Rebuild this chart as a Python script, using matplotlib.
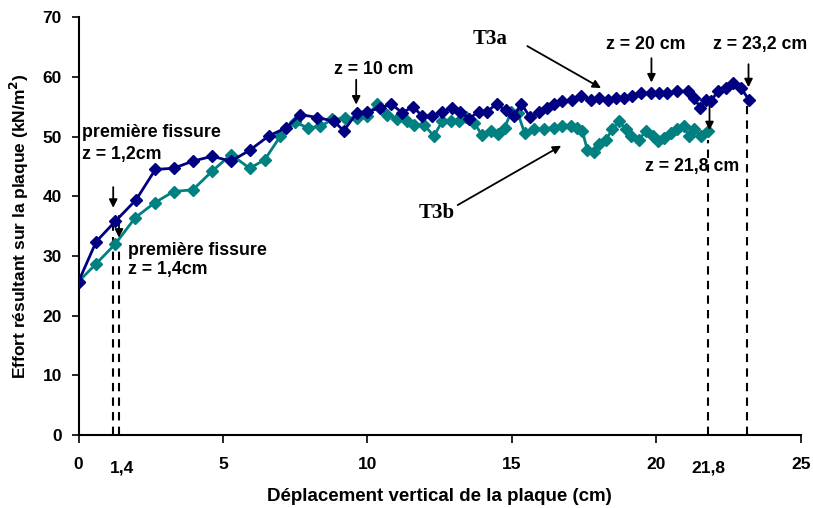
import matplotlib.pyplot as plt
import numpy as np

# T3a (navy) and T3b (teal): displacement (cm) vs resulting force (kN/m2)
t3a_x = [0, 0.61, 1.27, 1.99, 2.66, 3.29, 3.96, 4.62, 5.28, 5.92, 6.58, 7.19, 7.68,
         8.26, 8.83, 9.18, 9.64, 9.99, 10.45, 10.82, 11.2, 11.58, 11.9, 12.24, 12.59,
         12.94, 13.22, 13.51, 13.86, 14.15, 14.47, 14.78, 15.07, 15.33, 15.62, 15.95,
         16.2, 16.46, 16.75, 17.09, 17.38, 17.73, 18.02, 18.31, 18.59, 18.88, 19.17,
         19.46, 19.81, 20.09, 20.38, 20.73, 21.08, 21.31, 21.52, 21.72, 21.89, 22.12,
         22.4, 22.67, 22.92, 23.2]
t3a_y = [25.7, 32.4, 35.8, 39.4, 44.5, 44.7, 45.9, 46.7, 45.9, 47.7, 50.1, 51.5, 53.7,
         53.2, 52.6, 51.0, 54.0, 54.2, 54.8, 55.5, 54.0, 55.0, 53.4, 53.5, 54.2,
         54.8, 54.2, 53.0, 54.2, 54.2, 55.5, 54.4, 53.4, 55.5, 53.3, 54.1,
         54.8, 55.4, 55.9, 56.2, 56.8, 56.2, 56.5, 56.2, 56.5, 56.5, 56.8,
         57.3, 57.3, 57.3, 57.3, 57.6, 57.6, 56.5, 54.8, 56.1, 55.9, 57.6,
         58.2, 59.0, 58.2, 56.2]

t3b_x = [0, 0.61, 1.27, 1.96, 2.63, 3.29, 3.96, 4.62, 5.28, 5.92, 6.44, 6.99, 7.48,
         7.94, 8.37, 8.78, 9.24, 9.64, 9.99, 10.34, 10.68, 11.03, 11.38, 11.6, 11.95,
         12.3, 12.59, 12.88, 13.16, 13.42, 13.7, 13.97, 14.26, 14.52, 14.75, 14.97,
         15.2, 15.44, 15.76, 16.1, 16.46, 16.75, 17.03, 17.27, 17.44, 17.61, 17.84,
         18.02, 18.25, 18.48, 18.71, 18.94, 19.11, 19.4, 19.63, 19.87, 20.04, 20.27,
         20.5, 20.73, 20.96, 21.13, 21.31, 21.54, 21.8]
t3b_y = [25.7, 28.7, 32.0, 36.4, 38.9, 40.8, 41.1, 44.2, 47.0, 44.7, 46.1, 50.1, 52.4,
         51.5, 51.7, 52.9, 53.1, 53.2, 53.5, 55.4, 53.7, 52.9, 52.6, 52.0, 52.0,
         50.1, 52.6, 52.6, 52.6, 53.3, 52.3, 50.2, 51.0, 50.5, 51.5, 54.1,
         54.0, 50.6, 51.2, 51.3, 51.5, 51.7, 51.7, 51.5, 50.9, 47.8, 47.5,
         48.7, 49.5, 51.2, 52.6, 51.2, 50.1, 49.5, 50.9, 50.1, 49.2, 49.8,
         50.6, 51.2, 51.7, 50.1, 51.2, 50.1, 50.9]

x_ticks = [0, 5, 10, 15, 20, 25]
y_ticks = [0, 10, 20, 30, 40, 50, 60, 70]
extra_ticks = [1.5, 21.8]
extra_labels = ['1,4', '21,8']

plt.rcParams['font.family'] = ['Liberation Sans', 'DejaVu Sans']
plt.rcParams['font.weight'] = 'bold'

fig = plt.figure(figsize=(8.13, 5.08), dpi=100)
ax = fig.add_axes([0.0966, 0.1437, 0.8884, 0.8223])

navy = '#000080'
teal = '#008080'
ax.plot(t3b_x, t3b_y, color=teal, lw=2, marker='D', ms=6.5, mec=teal, zorder=3)
ax.plot(t3a_x, t3a_y, color=navy, lw=2, marker='D', ms=6.5, mec=navy, zorder=4)

ax.set_xlim(0, 25)
ax.set_ylim(0, 70)
ax.set_xticks(x_ticks)
ax.set_yticks(y_ticks)
ax.tick_params(axis='x', direction='out', length=6, width=1.2, pad=10, labelsize=12.5)
ax.tick_params(axis='y', direction='out', length=5, width=1.2, pad=7, labelsize=12.5)
for lab in ax.get_xticklabels() + ax.get_yticklabels():
    lab.set_fontweight('bold')
for s in ['top', 'right']:
    ax.spines[s].set_visible(False)
for s in ['left', 'bottom']:
    ax.spines[s].set_linewidth(1.5)

for xv, lab in zip(extra_ticks, extra_labels):
    ax.text(xv, -0.078, lab, transform=ax.get_xaxis_transform(), ha='center',
            va='center', fontsize=12.5, fontweight='bold')

ax.set_xlabel('Déplacement vertical de la plaque (cm)', fontsize=13.5,
              fontweight='bold', labelpad=11)
ax.set_ylabel('Effort résultant sur la plaque (kN/m$^\\mathbf{2}$)', fontsize=12.5,
              fontweight='bold', labelpad=8)

# dashed verticals
dash = dict(color='black', lw=1.5, ls=(0, (4, 3)), zorder=2)
ax.plot([1.2, 1.2], [0, 35.2], **dash)
ax.plot([1.4, 1.4], [0, 31.0], **dash)
ax.plot([21.8, 21.8], [0, 49.5], **dash)
ax.plot([23.15, 23.15], [0, 55.6], **dash)

arrow = dict(arrowstyle='-|>', color='black', lw=1.3, mutation_scale=12)
fs = 12.8
# first crack annotations
ax.text(0.12, 50.7, 'première fissure', fontsize=fs, fontweight='bold', va='center')
ax.text(0.12, 47.0, 'z = 1,2cm', fontsize=fs, fontweight='bold', va='center')
ax.annotate('', xy=(1.2, 37.6), xytext=(1.2, 42.0), arrowprops=arrow)
ax.text(1.71, 31.0, 'première fissure', fontsize=fs, fontweight='bold', va='center')
ax.text(1.71, 27.7, 'z = 1,4cm', fontsize=fs, fontweight='bold', va='center')
ax.annotate('', xy=(1.4, 32.6), xytext=(1.4, 37.2), arrowprops=arrow)

ax.text(10.23, 61.3, 'z = 10 cm', fontsize=fs, fontweight='bold', ha='center', va='center')
ax.annotate('', xy=(9.61, 54.9), xytext=(9.61, 60.0), arrowprops=arrow)

ax.text(19.62, 65.4, 'z = 20 cm', fontsize=fs, fontweight='bold', ha='center', va='center')
ax.annotate('', xy=(19.83, 58.6), xytext=(19.83, 63.6), arrowprops=arrow)

ax.text(23.6, 65.4, 'z = 23,2 cm', fontsize=fs, fontweight='bold', ha='center', va='center')
ax.annotate('', xy=(23.19, 57.8), xytext=(23.19, 62.6), arrowprops=arrow)

ax.text(21.24, 45.0, 'z = 21,8 cm', fontsize=fs, fontweight='bold', ha='center', va='center')
ax.annotate('', xy=(21.84, 50.6), xytext=(21.84, 55.9), arrowprops=arrow)

# series labels
ax.text(14.25, 66.3, 'T3a', fontsize=15, fontweight='bold', family='Liberation Serif',
        ha='center', va='center')
ax.annotate('', xy=(18.17, 57.9), xytext=(15.45, 65.4), arrowprops=arrow)
ax.text(12.41, 37.2, 'T3b', fontsize=15, fontweight='bold', family='Liberation Serif',
        ha='center', va='center')
ax.annotate('', xy=(16.79, 48.7), xytext=(13.04, 38.3), arrowprops=arrow)

fig.savefig('out.png', dpi=100)
